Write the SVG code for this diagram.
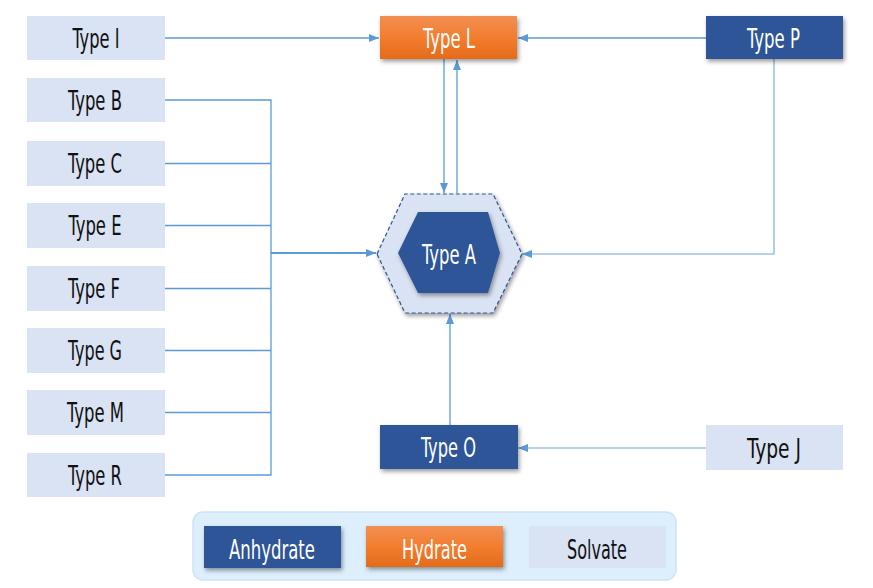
<svg xmlns="http://www.w3.org/2000/svg" width="873" height="588" viewBox="0 0 873 588">
<style>
.t{font-family:"DejaVu Sans Condensed","DejaVu Sans","Liberation Sans",sans-serif;font-size:27px;text-anchor:middle}
.dk{fill:#111}
.wh{fill:#fff}
.light{fill:#DAE3F3}
.dark{fill:#2F5597}
.c{fill:none;stroke:#5B9BD5;stroke-width:1.3}
.c2{fill:none;stroke:#9DC3E6;stroke-width:1.6}
</style>
<defs>
<linearGradient id="og" x1="0" y1="0" x2="0" y2="1">
<stop offset="0" stop-color="#F38F53"/>
<stop offset="0.5" stop-color="#F27D2E"/>
<stop offset="1" stop-color="#E36B1B"/>
</linearGradient>
<filter id="sh" x="-20%" y="-30%" width="140%" height="170%">
<feDropShadow dx="1.5" dy="2.5" stdDeviation="2" flood-color="#000" flood-opacity="0.4"/>
</filter>
<marker id="ar" markerUnits="userSpaceOnUse" markerWidth="10" markerHeight="10" viewBox="0 0 10 10" refX="10" refY="5" orient="auto">
<path d="M0,1 L10,5 L0,9 Z" fill="#5B9BD5"/>
</marker>
</defs>

<g id="connectors">
<line class="c" x1="165" y1="38" x2="379" y2="38" marker-end="url(#ar)"/>
<line class="c" x1="706" y1="38" x2="518" y2="38" marker-end="url(#ar)"/>
<line class="c" x1="444" y1="59" x2="444" y2="193" marker-end="url(#ar)"/>
<line class="c" x1="457" y1="193" x2="457" y2="60" marker-end="url(#ar)"/>
<polyline class="c2" points="774,59 774,254 522,254" marker-end="url(#ar)"/>
<line class="c" x1="450" y1="425" x2="450" y2="314" marker-end="url(#ar)"/>
<line class="c2" x1="706" y1="448" x2="518" y2="448" marker-end="url(#ar)"/>
<polyline class="c" points="165,100 271,100 271,475 165,475"/>
<line class="c" x1="165" y1="163.5" x2="271" y2="163.5"/>
<line class="c" x1="165" y1="225.5" x2="271" y2="225.5"/>
<line class="c" x1="165" y1="288.5" x2="271" y2="288.5"/>
<line class="c" x1="165" y1="350.5" x2="271" y2="350.5"/>
<line class="c" x1="165" y1="412.5" x2="271" y2="412.5"/>
<line x1="271" y1="253" x2="376" y2="253" stroke="#5B9BD5" stroke-width="2" marker-end="url(#ar)"/>
</g>

<g id="typeI"><rect class="light" x="27" y="16" width="138" height="44"/><text class="t dk" x="96" y="48" textLength="47" lengthAdjust="spacingAndGlyphs">Type I</text></g>
<g id="typeB"><rect class="light" x="27" y="78" width="138" height="44"/><text class="t dk" x="95" y="110" textLength="54" lengthAdjust="spacingAndGlyphs">Type B</text></g>
<g id="typeC"><rect class="light" x="27" y="141" width="138" height="45"/><text class="t dk" x="95" y="173" textLength="54" lengthAdjust="spacingAndGlyphs">Type C</text></g>
<g id="typeE"><rect class="light" x="27" y="203" width="138" height="45"/><text class="t dk" x="95" y="235" textLength="53" lengthAdjust="spacingAndGlyphs">Type E</text></g>
<g id="typeF"><rect class="light" x="27" y="266" width="138" height="45"/><text class="t dk" x="94" y="298" textLength="52" lengthAdjust="spacingAndGlyphs">Type F</text></g>
<g id="typeG"><rect class="light" x="27" y="328" width="138" height="45"/><text class="t dk" x="95" y="360" textLength="54" lengthAdjust="spacingAndGlyphs">Type G</text></g>
<g id="typeM"><rect class="light" x="27" y="390" width="138" height="45"/><text class="t dk" x="95.5" y="422" textLength="57" lengthAdjust="spacingAndGlyphs">Type M</text></g>
<g id="typeR"><rect class="light" x="27" y="453" width="138" height="44"/><text class="t dk" x="95" y="485" textLength="54" lengthAdjust="spacingAndGlyphs">Type R</text></g>

<g id="typeL"><rect x="380" y="16" width="137" height="43" fill="url(#og)" filter="url(#sh)"/><text class="t wh" x="449" y="48" textLength="52" lengthAdjust="spacingAndGlyphs">Type L</text></g>
<g id="typeP"><rect class="dark" x="706" y="16" width="137" height="43" filter="url(#sh)"/><text class="t wh" x="773.5" y="48" textLength="53" lengthAdjust="spacingAndGlyphs">Type P</text></g>
<g id="typeO"><rect class="dark" x="380" y="425" width="138" height="44" filter="url(#sh)"/><text class="t wh" x="448.5" y="457" textLength="55" lengthAdjust="spacingAndGlyphs">Type O</text></g>
<g id="typeJ"><rect class="light" x="706" y="425" width="137" height="45"/><text class="t dk" x="774" y="458" textLength="54" lengthAdjust="spacingAndGlyphs">Type J</text></g>

<g id="typeA">
<polygon points="377,254 405,194 493,194 522,254 493,313 405,313" fill="#DAE3F3" stroke="#2F5597" stroke-width="1.2" stroke-dasharray="4,2.5" filter="url(#sh)"/>
<polygon points="398,253 418,212 488,212 500,253 488,293 418,293" fill="#2F5597" filter="url(#sh)"/>
<text class="t wh" x="449" y="264" textLength="54" lengthAdjust="spacingAndGlyphs">Type A</text>
</g>

<g id="legend">
<rect x="193" y="512" width="483" height="68" rx="10" fill="#DDEFFC" stroke="#CFE3F5" stroke-width="1.5"/>
<g id="lg-anhydrate"><rect class="dark" x="204" y="526" width="137" height="42" filter="url(#sh)"/><text class="t wh" x="272" y="559" textLength="86" lengthAdjust="spacingAndGlyphs">Anhydrate</text></g>
<g id="lg-hydrate"><rect x="366" y="526" width="137" height="41" fill="url(#og)" filter="url(#sh)"/><text class="t wh" x="434.5" y="559" textLength="65" lengthAdjust="spacingAndGlyphs">Hydrate</text></g>
<g id="lg-solvate"><rect class="light" x="529" y="526" width="137" height="42"/><text class="t dk" x="597" y="559" textLength="60" lengthAdjust="spacingAndGlyphs">Solvate</text></g>
</g>
</svg>
